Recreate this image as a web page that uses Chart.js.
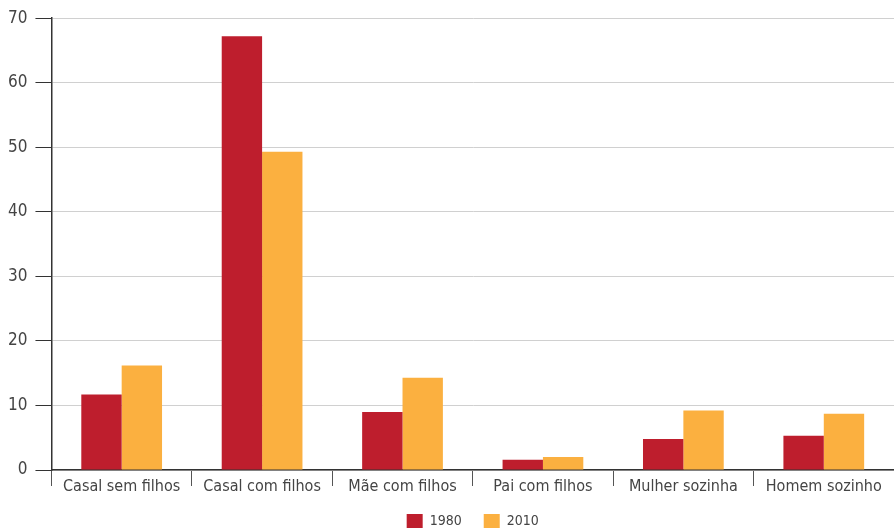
<!DOCTYPE html>
<html>
<head>
<meta charset="utf-8">
<script src="https://cdn.jsdelivr.net/npm/chart.js@4"></script>
<style>
  html, body { margin: 0; padding: 0; background: #fff; }
  #wrap { width: 894px; height: 529px; }
</style>
</head>
<body>
<div id="wrap"><canvas id="grafico"></canvas></div>
<script>
// categorias e valores (%)
var categorias = ['Casal sem filhos', 'Casal com filhos', 'Mãe com filhos', 'Pai com filhos', 'Mulher sozinha', 'Homem sozinho'];
var valores1980 = [11.7, 67.2, 9.0, 1.6, 4.8, 5.3];
var valores2010 = [16.2, 49.3, 14.3, 2.0, 9.2, 8.7];
var escalaY = [0, 10, 20, 30, 40, 50, 60, 70];

var fonte = "'DejaVu Sans Condensed', 'Liberation Sans', sans-serif";

var ctx = document.getElementById('grafico').getContext('2d');
var grafico = new Chart(ctx, {
    type: 'bar',
    data: {
        labels: categorias,
        datasets: [{
            label: '1980',
            data: valores1980,
            backgroundColor: '#be1e2d'
        }, {
            label: '2010',
            data: valores2010,
            backgroundColor: '#fbb040'
        }]
    },
    options: {
        responsive: true,
        maintainAspectRatio: false,
        animation: false,
        barPercentage: 1,
        categoryPercentage: 0.575,
        layout: {
            padding: { top: 16, right: 0, left: 0, bottom: -9 }
        },
        scales: {
            x: {
                border: { display: true, color: '#333', width: 1.5 },
                grid: {
                    display: true,
                    offset: true,
                    drawOnChartArea: false,
                    drawTicks: true,
                    tickLength: 16,
                    tickColor: '#555'
                },
                ticks: {
                    color: '#444',
                    font: { family: fonte, size: 16 },
                    padding: -9
                },
                afterFit: function(axis) {
                    axis.height = 22; // rótulos sobre os traços
                }
            },
            y: {
                min: 0,
                max: 70,
                afterBuildTicks: function(axis) {
                    axis.ticks = escalaY.map(function(v) { return { value: v }; });
                },
                border: { display: true, color: '#333', width: 1.5 },
                grid: {
                    color: '#d0d0d0',
                    lineWidth: 1,
                    tickLength: 16,
                    tickColor: '#333'
                },
                ticks: {
                    color: '#444',
                    font: { family: fonte, size: 17 },
                    padding: 8
                }
            }
        },
        plugins: {
            legend: {
                position: 'bottom',
                fullSize: false,
                labels: {
                    color: '#444',
                    font: { family: fonte, size: 14 },
                    boxWidth: 16,
                    boxHeight: 14,
                    padding: 22
                }
            },
            tooltip: { enabled: false }
        }
    }
});
</script>
</body>
</html>
